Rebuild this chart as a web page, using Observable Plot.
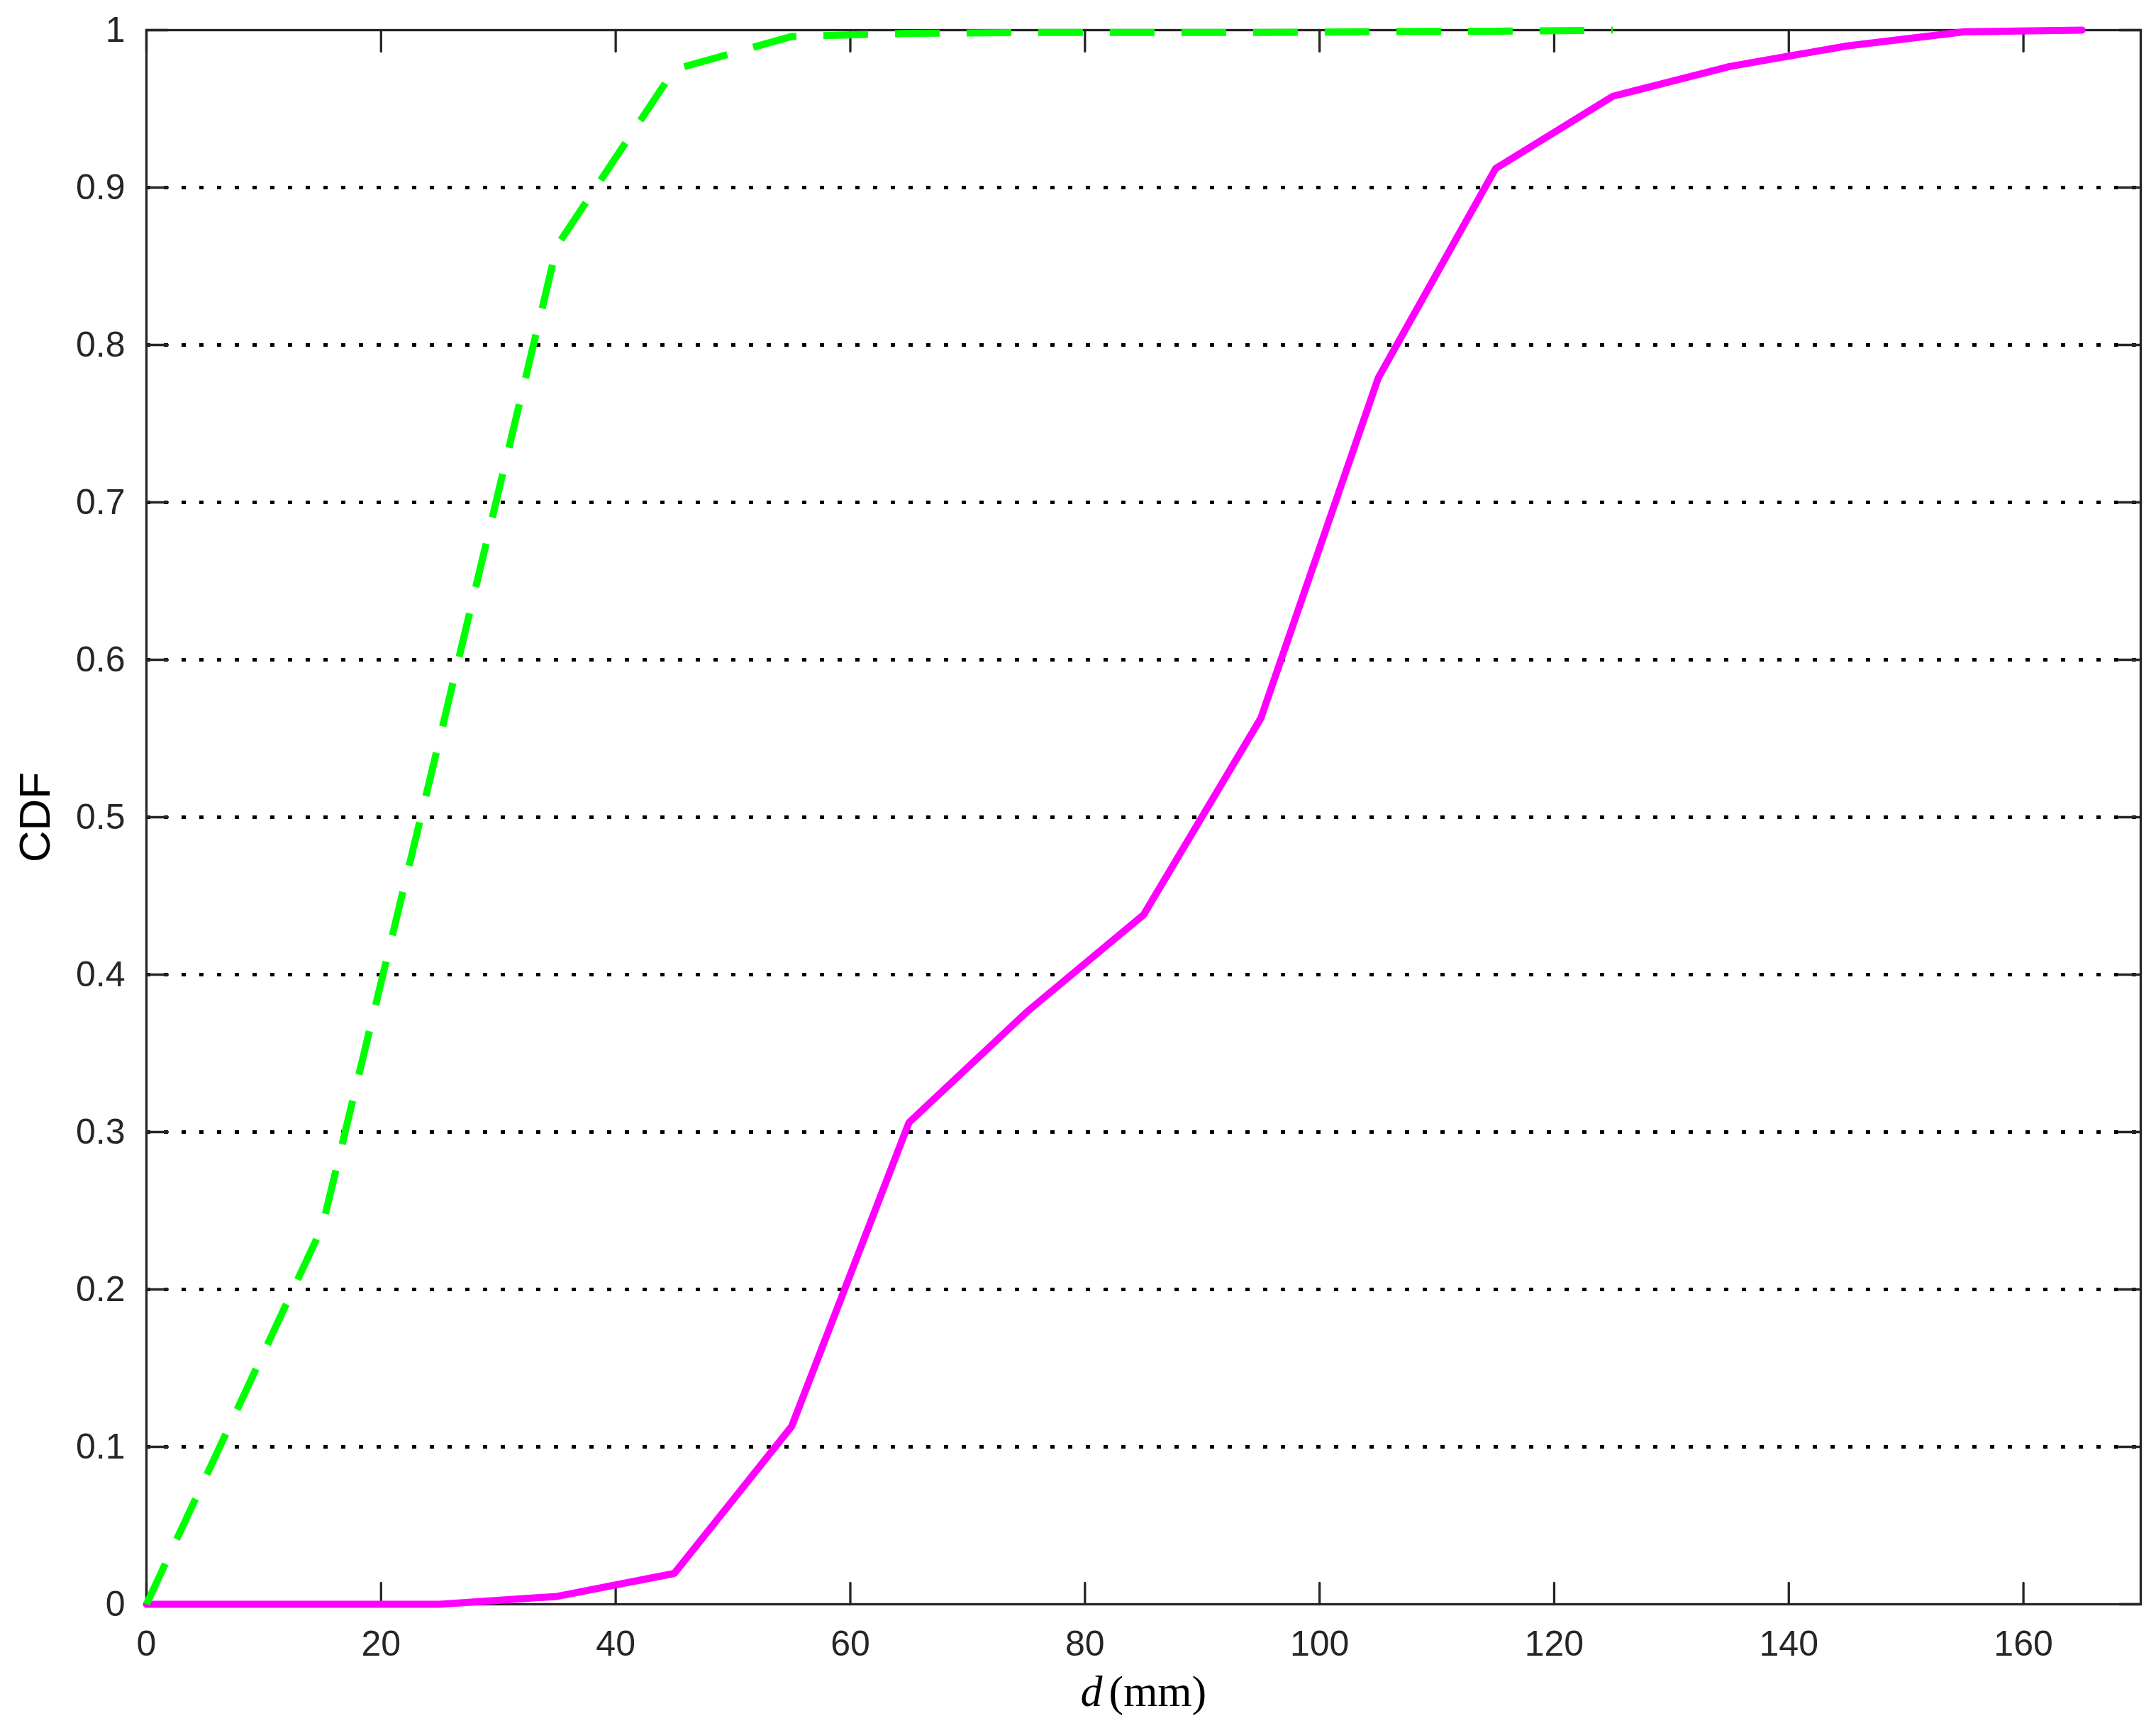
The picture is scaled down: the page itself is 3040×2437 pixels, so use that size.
<!DOCTYPE html>
<html><head><meta charset="utf-8">
<script src="https://cdn.jsdelivr.net/npm/d3@7"></script>
<script src="https://cdn.jsdelivr.net/npm/@observablehq/plot@0.6"></script>
<style>body{margin:0;background:#fff;}</style>
</head><body><div id="chart"></div>
<script>
// Data
const dGreen = [0, 15, 25, 35, 45, 55, 65, 75, 85, 95, 105, 115, 125];
const cdfGreen = [0, 0.24, 0.55, 0.863, 0.975, 0.996, 0.998, 0.9985, 0.9985, 0.9985, 0.999, 0.9993, 1];
const dMagenta = [0, 15, 25, 35, 45, 55, 65, 75, 85, 95, 105, 115, 125, 135, 145, 155, 165];
const cdfMagenta = [0, 0, 0, 0.005, 0.0196, 0.113, 0.306, 0.376, 0.438, 0.563, 0.779, 0.912, 0.958, 0.977, 0.990, 0.999, 1];
const xTicks = [0, 20, 40, 60, 80, 100, 120, 140, 160];
const xTickLabels = ["0", "20", "40", "60", "80", "100", "120", "140", "160"];
const yTicks = [0, 0.1, 0.2, 0.3, 0.4, 0.5, 0.6, 0.7, 0.8, 0.9, 1];
const yTickLabels = ["0", "0.1", "0.2", "0.3", "0.4", "0.5", "0.6", "0.7", "0.8", "0.9", "1"];
const xLabelVar = "d";
const xLabelUnit = "(mm)";
const yLabel = "CDF";

const green = dGreen.map((d, i) => ({d, p: cdfGreen[i]}));
const magenta = dMagenta.map((d, i) => ({d, p: cdfMagenta[i]}));

const tickShape = {draw(ctx, l) { ctx.moveTo(0, 0); ctx.lineTo(0, -l); }};
const tickStyle = {stroke: "#262626", strokeWidth: 3.3, length: 30, anchor: "start", shape: tickShape};

const chart = Plot.plot({
  width: 3040,
  height: 2437,
  marginLeft: 206,
  marginRight: 22,
  marginTop: 42,
  marginBottom: 175,
  x: {domain: [0, 170]},
  y: {domain: [0, 1]},
  style: {background: "#fff", fontFamily: "'Liberation Sans', Arial, Helvetica, sans-serif"},
  marks: [
    Plot.ruleY(yTicks.filter(v => v > 0 && v < 1), {y: d => d, stroke: "#000", strokeWidth: 5, strokeDasharray: "6,19"}),
    Plot.frame({stroke: "#262626", strokeWidth: 3.3}),
    Plot.vector(xTicks, {x: d => d, y: 0, rotate: 0, ...tickStyle}),
    Plot.vector(xTicks, {x: d => d, y: 1, rotate: 180, ...tickStyle}),
    Plot.vector(yTicks, {x: 0, y: d => d, rotate: 90, ...tickStyle}),
    Plot.vector(yTicks, {x: 170, y: d => d, rotate: -90, ...tickStyle}),
    Plot.axisX(xTicks, {tickSize: 0, tickPadding: 37, tickFormat: d => xTickLabels[xTicks.indexOf(d)], fontSize: 50, color: "#262626", label: null}),
    Plot.axisY(yTicks, {tickSize: 0, tickPadding: 30, tickFormat: d => yTickLabels[yTicks.indexOf(d)], fontSize: 50, color: "#262626", label: null}),
    Plot.line(magenta, {x: "d", y: "p", stroke: "#ff00ff", strokeWidth: 10, strokeLinejoin: "miter"}),
    Plot.line(green, {x: "d", y: "p", stroke: "#00ff00", strokeWidth: 10, strokeDasharray: "63,38", strokeLinecap: "butt", strokeLinejoin: "miter"}),
    Plot.text([yLabel], {frameAnchor: "left", text: d => d, rotate: -90, textAnchor: "middle", dx: -156, fontSize: 62, fill: "#000"}),
    Plot.text([xLabelVar], {frameAnchor: "bottom", text: d => d, textAnchor: "start", lineAnchor: "bottom", dx: -89, dy: 143, fontSize: 62, fontFamily: "'Liberation Serif', 'DejaVu Serif', serif", fontStyle: "italic", fill: "#000"}),
    Plot.text([xLabelUnit], {frameAnchor: "bottom", text: d => d, textAnchor: "start", lineAnchor: "bottom", dx: -49, dy: 143, fontSize: 62, fontFamily: "'Liberation Serif', 'DejaVu Serif', serif", fill: "#000"})
  ]
});
document.getElementById("chart").appendChild(chart);
</script>
</body></html>
